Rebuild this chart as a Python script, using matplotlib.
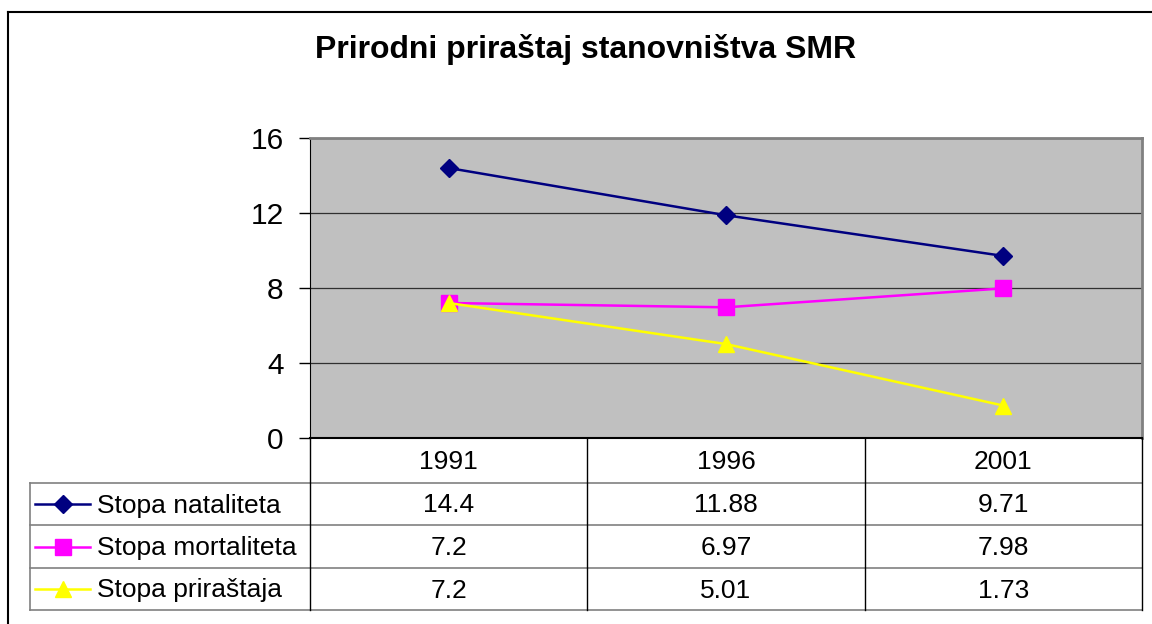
import numpy as np
import matplotlib.pyplot as plt
from matplotlib.lines import Line2D

plt.rcParams['font.family'] = ['Liberation Sans', 'DejaVu Sans']

# Podaci
godine = ["1991", "1996", "2001"]
natalitet = [14.4, 11.88, 9.71]
mortalitet = [7.2, 6.97, 7.98]
prirastaj = [7.2, 5.01, 1.73]
nazivi = ["Stopa nataliteta", "Stopa mortaliteta", "Stopa priraštaja"]
tekst_vrijednosti = [["14.4", "11.88", "9.71"],
                     ["7.2", "6.97", "7.98"],
                     ["7.2", "5.01", "1.73"]]
yticks = [0, 4, 8, 12, 16]

boje = ["#000080", "#FF00FF", "#FFFF00"]
markeri = ["D", "s", "^"]
velicine = [9, 11, 12]

W, H = 1152, 624
fig = plt.figure(figsize=(W / 100, H / 100), dpi=100)

# okvir grafikona
fig.add_artist(Line2D([8 / W, 8 / W], [0, 1 - 12 / H], color="black", lw=1.5))
fig.add_artist(Line2D([8 / W, 1], [1 - 12 / H, 1 - 12 / H], color="black", lw=1.5))

fig.text(586 / W, 1 - 58 / H, "Prirodni priraštaj stanovništva SMR",
         ha="center", va="baseline", fontsize=23, fontweight="bold")

# glavni dijagram
ax = fig.add_axes([310 / W, 1 - 438 / H, 832 / W, 300 / H])
ax.set_facecolor("#C0C0C0")
x = np.arange(len(godine))
serije = [natalitet, mortalitet, prirastaj]
for s, c, m, ms in zip(serije, boje, markeri, velicine):
    ax.plot(x, s, color=c, lw=1.8, marker=m, ms=ms, mec=c, mfc=c, zorder=3)

ax.set_xlim(-0.5, 2.5)
ax.set_ylim(0, 16)
ax.set_yticks(yticks)
ax.set_yticklabels([str(v) for v in yticks], fontsize=21.5)
ax.set_xticks([])
ax.tick_params(axis="y", length=8, width=1, pad=11)
ax.grid(axis="y", color="#303030", lw=0.9)
ax.set_axisbelow(True)
ax.spines["top"].set_color("#808080")
ax.spines["right"].set_color("#808080")
ax.spines["top"].set_linewidth(2)
ax.spines["right"].set_linewidth(2)
ax.spines["bottom"].set_linewidth(1.5)

# tabela podataka
tab = fig.add_axes([310 / W, 1 - 610 / H, 832 / W, 172 / H])
tab.set_xlim(-0.5, 2.5)
tab.set_ylim(172, 0)
tab.axis("off")

kol = 832 / 3


def px(p):
    return (p - 310) / kol - 0.5


redovi = [0, 45, 87, 130, 172]
lijevo = px(30)
for r in redovi[1:]:
    tab.plot([lijevo, 2.5], [r, r], color="#808080", lw=1.2, clip_on=False)
tab.plot([lijevo, lijevo], [45, 172], color="#808080", lw=1.2, clip_on=False)
for k in [-0.5, 0.5, 1.5, 2.5]:
    tab.plot([k, k], [0, 172], color="black", lw=1, clip_on=False)

for i, g in enumerate(godine):
    tab.text(i, 24, g, ha="center", va="center", fontsize=19)

for j in range(3):
    yc = (redovi[j + 1] + redovi[j + 2]) / 2
    for i in range(3):
        tab.text(i, yc + 1.5, tekst_vrijednosti[j][i], ha="center", va="center",
                 fontsize=19)
    tab.plot([px(35), px(90)], [yc, yc], color=boje[j], lw=1.8, clip_on=False)
    tab.plot([px(63)], [yc], marker=markeri[j], ms=velicine[j], color=boje[j],
             clip_on=False)
    tab.text(px(97), yc + 1.5, nazivi[j], ha="left", va="center", fontsize=19)

fig.savefig("out.png", dpi=100)
